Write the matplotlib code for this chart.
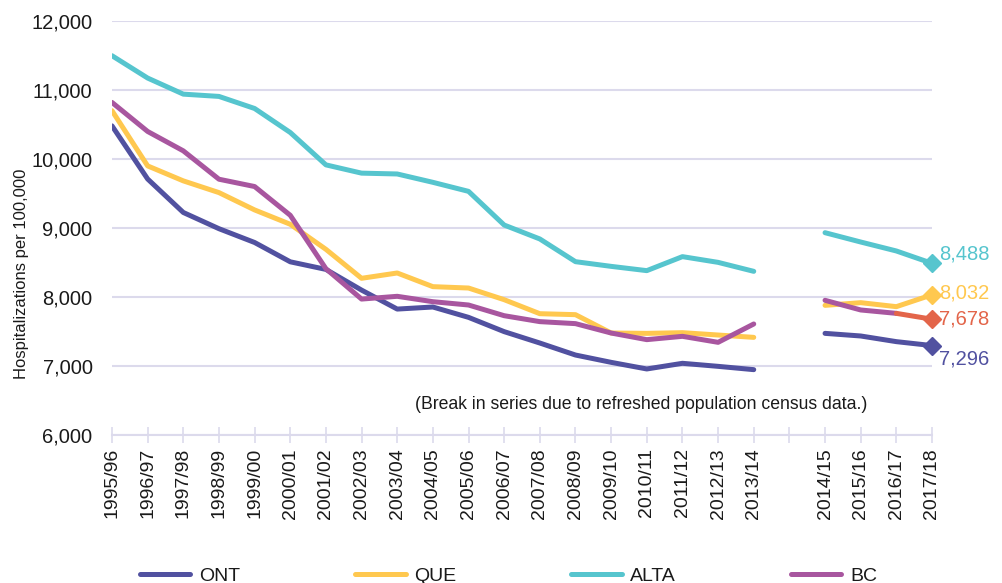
import numpy as np
import matplotlib
matplotlib.use("Agg")
import matplotlib.pyplot as plt
from matplotlib.ticker import FuncFormatter

plt.rcParams['font.family'] = ['Liberation Sans', 'DejaVu Sans']

# fiscal years; the blank slot marks the break in series
years = ["1995/96", "1996/97", "1997/98", "1998/99", "1999/00", "2000/01",
         "2001/02", "2002/03", "2003/04", "2004/05", "2005/06", "2006/07",
         "2007/08", "2008/09", "2009/10", "2010/11", "2011/12", "2012/13",
         "2013/14", "", "2014/15", "2015/16", "2016/17", "2017/18"]

nan = np.nan
ont = [10480, 9710, 9225, 8990, 8790, 8510, 8400, 8100, 7825, 7855, 7705,
       7498, 7333, 7159, 7053, 6957, 7039, 6995, 6947, nan, 7473, 7435, 7353, 7296]
que = [10700, 9900, 9683, 9513, 9262, 9054, 8691, 8271, 8348, 8150, 8130,
       7961, 7758, 7744, 7478, 7473, 7483, 7449, 7415, nan, 7879, 7918, 7860, 8032]
alta = [11497, 11173, 10940, 10907, 10732, 10384, 9915, 9795, 9783, 9662, 9531,
        9043, 8841, 8512, 8444, 8382, 8585, 8502, 8372, nan, 8932, 8797, 8667, 8488]
bc = [10820, 10399, 10118, 9707, 9601, 9184, 8410, 7970, 8010, 7932, 7884,
      7729, 7643, 7614, 7478, 7382, 7430, 7343, 7609, nan, 7952, 7812, 7763, 7678]

series = [("ONT", ont, "#5151A0"), ("QUE", que, "#FFC84F"),
          ("ALTA", alta, "#56C5CE"), ("BC", bc, "#A8569F")]
bc_last_color = "#E3654A"
# label offsets (points) for the end values
label_dy = {"ONT": -9.5, "QUE": 1.5, "ALTA": 6.5, "BC": 0}

fig = plt.figure(figsize=(10.03, 5.83), dpi=100)
ax = fig.add_axes([112 / 1003, 1 - 435 / 583, 820 / 1003, 414 / 583])

x = np.arange(len(years))
grid_col = "#DCDAEC"
txt_col = "#1A1A1A"

handles = []
for name, vals, col in series:
    vals = np.array(vals, dtype=float)
    if name == "BC":
        # last BC segment is highlighted in a different colour
        ln, = ax.plot(x[:-1], vals[:-1], color=col, lw=3.6, solid_capstyle="round", label=name, zorder=3)
        ax.plot(x[-2:], vals[-2:], color=bc_last_color, lw=3.6, solid_capstyle="round", zorder=3)
        end_col = bc_last_color
    else:
        ln, = ax.plot(x, vals, color=col, lw=3.6, solid_capstyle="round", label=name, zorder=3)
        end_col = col
    handles.append(ln)
    ax.plot(x[-1], vals[-1], marker="D", ms=9, color=end_col, zorder=4, clip_on=False)
    ax.annotate(f"{int(vals[-1]):,}", (x[-1], vals[-1]), xytext=(5, label_dy[name]),
                textcoords="offset points", ha="left", va="center",
                fontsize=14.5, color=end_col, annotation_clip=False)

ax.set_xlim(0, len(years) - 1)
ax.set_ylim(6000, 12000)
ax.set_yticks(np.arange(6000, 12001, 1000))
ax.yaxis.set_major_formatter(FuncFormatter(lambda v, p: f"{int(v):,}"))
ax.grid(axis="y", color=grid_col, lw=1.5)
ax.set_axisbelow(True)

ax.set_xticks(x)
ax.set_xticklabels(years, rotation=90, fontsize=14)
ax.tick_params(axis="x", direction="inout", length=11, width=1.2, color=grid_col, pad=4,
               labelcolor=txt_col)
ax.tick_params(axis="y", length=0, pad=14, labelsize=14.5, labelcolor=txt_col)

for side in ["top", "right", "left"]:
    ax.spines[side].set_visible(False)
ax.spines["bottom"].set_color(grid_col)
ax.spines["bottom"].set_linewidth(1.5)

ax.set_ylabel("Hospitalizations per 100,000", fontsize=12, color=txt_col)
ax.yaxis.set_label_coords(-0.101, 0.389)

ax.text(14.84, 6435, "(Break in series due to refreshed population census data.)",
        ha="center", va="center", fontsize=12.7, color=txt_col)

fig.legend(handles=handles, loc="center", bbox_to_anchor=(0.507, 1 - 576 / 583),
           ncol=4, frameon=False, fontsize=14, handlelength=2.6,
           handletextpad=0.45, columnspacing=5.9, labelcolor=txt_col)

fig.savefig("out.png", dpi=100)
